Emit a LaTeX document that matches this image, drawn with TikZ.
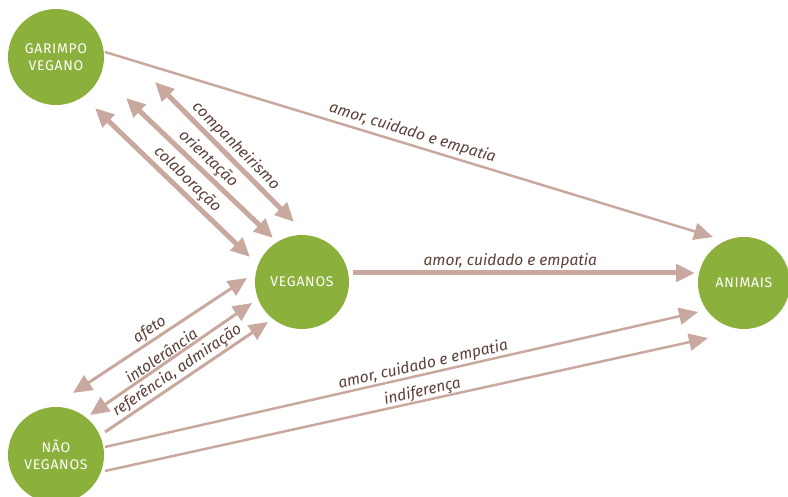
\documentclass[tikz,border=0pt]{standalone}
\usepackage{fontspec}
\setmainfont{Fira Sans}
\newfontfamily\nodefont[LetterSpace=5]{Fira Sans}
\usetikzlibrary{arrows.meta,calc}
\definecolor{vgreen}{HTML}{8CB03C}
\definecolor{arr}{HTML}{C9A99F}
\definecolor{lab}{HTML}{5C4038}
\begin{document}
\begin{tikzpicture}[x=1pt,y=-1pt,
  circ/.style={circle,fill=vgreen,inner sep=0pt,outer sep=0pt,text=white,
    font=\nodefont\fontsize{14}{17}\selectfont,align=center},
  thickarr/.style={draw=arr,line width=5pt},
  thinarr/.style={draw=arr,line width=2.5pt},
  midarr/.style={draw=arr,line width=3pt},
  onehead/.style={-{Triangle[length=19pt,width=17pt]}},
  twoheads/.style={{Triangle[length=19pt,width=17pt]}-{Triangle[length=19pt,width=17pt]}},
  lbl/.style={sloped,above,text=lab,font=\itshape\fontsize{15.5}{17}\selectfont,inner sep=2pt}
]
\useasboundingbox (0,0) rectangle (788,497);
\clip (0,0) rectangle (788,497);
\node[circ,minimum size=96pt] (G) at (56,57) {GARIMPO\\VEGANO};
\node[circ,minimum size=94pt] (V) at (302,282) {VEGANOS};
\node[circ,minimum size=92pt] (A) at (744,283) {ANIMAIS};
\node[circ,minimum size=96pt] (N) at (56,455) {NÃO\\VEGANOS};

% GARIMPO -> ANIMAIS
\draw[thinarr,onehead] ($(G)+(49,-5)$) -- node[lbl,pos=0.5,inner sep=3pt]{amor, cuidado e empatia} ($(A)+(-31,-46)$);
% VEGANOS -> ANIMAIS
\draw[thickarr,onehead] ($(V)+(51,-9)$) -- node[lbl,pos=0.46,inner sep=2pt]{amor, cuidado e empatia} ($(A)+(-49,-10)$);
% NAO VEGANOS -> ANIMAIS
\draw[thinarr,onehead] ($(N)+(49,-8)$) -- node[lbl,pos=0.54,inner sep=0.5pt]{amor, cuidado e empatia} ($(A)+(-46,29)$);
\draw[thinarr,onehead] ($(N)+(49,16)$) -- node[lbl,pos=0.53,inner sep=0pt]{indiferença} ($(A)+(-36,55)$);

% GARIMPO <-> VEGANOS
\draw[thickarr,twoheads] ($(G)+(99,25)$) -- node[lbl,pos=0.52]{companheirismo} ($(V)+(-8,-60)$);
\draw[thickarr,twoheads] ($(G)+(70,41)$) -- node[lbl,pos=0.5]{orientação} ($(V)+(-29,-44)$);
\draw[thickarr,twoheads] ($(G)+(39,51)$) -- node[lbl,pos=0.54]{colaboração} ($(V)+(-52,-25)$);

% NAO VEGANOS <-> VEGANOS
\draw[midarr,twoheads] ($(N)+(17,-62)$) -- node[lbl,pos=0.475,inner sep=1.5pt]{afeto} ($(V)+(-55,-4)$);
\draw[midarr,twoheads] ($(N)+(34,-40)$) -- node[lbl,pos=0.47,inner sep=1pt]{intolerância} ($(V)+(-50,21)$);
\draw[midarr,onehead] ($(N)+(49,-23)$) -- node[lbl,pos=0.48,inner sep=1pt]{referência, admiração} ($(V)+(-34,40)$);
\end{tikzpicture}
\end{document}
